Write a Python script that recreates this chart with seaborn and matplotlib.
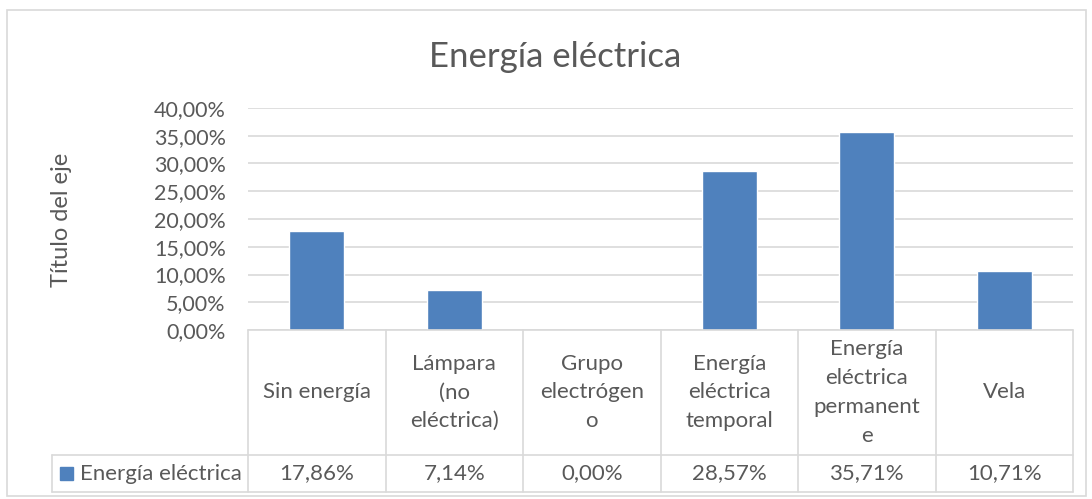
import numpy as np
import matplotlib.pyplot as plt
import seaborn as sns
import pandas as pd
from matplotlib.patches import Rectangle
from matplotlib.lines import Line2D
import matplotlib.transforms as mtransforms

# datos del gráfico
categorias = ["Sin energía", "Lámpara (no eléctrica)", "Grupo electrógeno",
              "Energía eléctrica temporal", "Energía eléctrica permanente", "Vela"]
# etiquetas tal como se ven en la tabla (cortadas por Excel)
etiquetas_tabla = ["Sin energía", "Lámpara\n(no\neléctrica)", "Grupo\nelectrógen\no",
                   "Energía\neléctrica\ntemporal", "Energía\neléctrica\npermanent\ne", "Vela"]
valores = [17.86, 7.14, 0.00, 28.57, 35.71, 10.71]
serie = "Energía eléctrica"
yticks = [0, 5, 10, 15, 20, 25, 30, 35, 40]

azul = "#4F81BD"
gris_txt = "#595959"
gris_lin = "#D9D9D9"

sns.set_theme(style="white")
plt.rcParams['font.family'] = ['Lato', 'DejaVu Sans']

W, H = 1092, 499
fig = plt.figure(figsize=(W / 100, H / 100), dpi=100)

# zona de trazado en pixeles
x0, x1, y_top, y_cero = 248, 1073, 108, 330
ax = fig.add_axes([x0 / W, 1 - y_cero / H, (x1 - x0) / W, (y_cero - y_top) / H])

df = pd.DataFrame({"Categoria": categorias, "Valor": valores})
sns.barplot(data=df, x="Categoria", y="Valor", color=azul, width=0.4,
            saturation=1, ax=ax)

ax.set_xlim(-0.5, len(categorias) - 0.5)
ax.set_ylim(0, 40)
ax.set_yticks(yticks)
ax.set_yticklabels([f"{v:.2f}%".replace(".", ",") for v in yticks],
                   fontsize=15.5, color=gris_txt)
ax.tick_params(axis="y", length=0, pad=16)
ax.set_xticks([])
ax.set_xlabel("")
ax.set_ylabel("")
for s in ax.spines.values():
    s.set_visible(False)
ax.grid(axis="y", color=gris_lin, linewidth=1.2)
ax.set_axisbelow(True)

fig.text(555 / W, 1 - 57 / H, "Energía eléctrica", ha="center", va="center",
         fontsize=25, color=gris_txt)
fig.text(62 / W, 1 - 220 / H, "Título del eje", ha="center", va="center",
         rotation=90, fontsize=17, color=gris_txt)

# tabla de datos bajo el eje
trans = mtransforms.blended_transform_factory(ax.transData, ax.transAxes)
alto = y_cero - y_top
fila1 = -(455 - y_cero) / alto
fila2 = -(492 - y_cero) / alto
ancho_cat = (x1 - x0) / len(categorias)
x_leyenda = -0.5 - (x0 - 52) / ancho_cat
n = len(categorias)

def linea(xs, ys):
    ax.add_line(Line2D(xs, ys, transform=trans, color=gris_lin, linewidth=1.2,
                       clip_on=False))

linea([-0.5, n - 0.5], [0, 0])
linea([x_leyenda, n - 0.5], [fila1, fila1])
linea([x_leyenda, n - 0.5], [fila2, fila2])
linea([x_leyenda, x_leyenda], [fila1, fila2])
for k in range(n + 1):
    linea([k - 0.5, k - 0.5], [0, fila2])

for i, (et, v) in enumerate(zip(etiquetas_tabla, valores)):
    ax.text(i, fila1 / 2, et, transform=trans, ha="center", va="center",
            fontsize=16, color=gris_txt, linespacing=1.55, clip_on=False)
    ax.text(i, (fila1 + fila2) / 2, f"{v:.2f}%".replace(".", ","),
            transform=trans, ha="center", va="center", fontsize=16,
            color=gris_txt, clip_on=False)

# marcador de la leyenda
lado = 13 / alto
ax.add_patch(Rectangle((x_leyenda + 8 / ancho_cat, (fila1 + fila2) / 2 - lado / 2),
                       13 / ancho_cat, lado, transform=trans, color=azul,
                       clip_on=False))
ax.text(x_leyenda + 28 / ancho_cat, (fila1 + fila2) / 2, serie, transform=trans,
        ha="left", va="center", fontsize=16, color=gris_txt, clip_on=False)

# borde exterior del gráfico
fig.add_artist(Rectangle((7 / W, 1 - 496 / H), (1086 - 7) / W, (496 - 10) / H,
                         transform=fig.transFigure, fill=False,
                         edgecolor=gris_lin, linewidth=1.2))

fig.savefig("out.png", dpi=100, facecolor="white")
plt.close()
